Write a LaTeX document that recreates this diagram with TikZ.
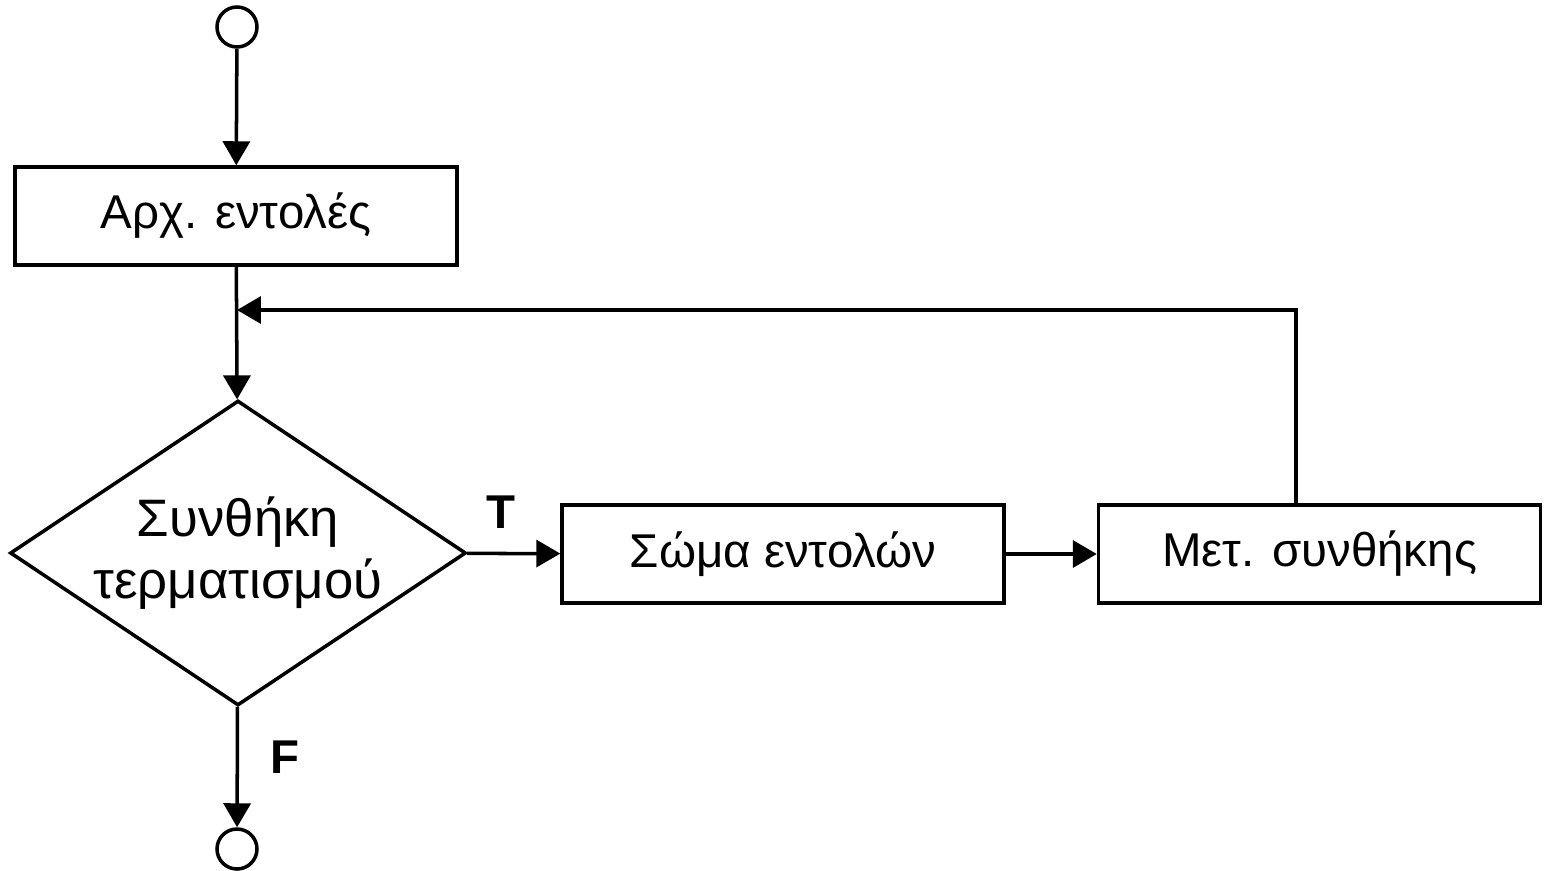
\documentclass[tikz,border=0pt]{standalone}
\usepackage{fontspec}
\setmainfont{Liberation Sans}
\usetikzlibrary{positioning}
\usetikzlibrary{shapes.geometric}
\usetikzlibrary{arrows.meta}

\tikzset{
  flow/.style={line width=2pt,-{Triangle[length=0.48cm,width=0.54cm]}},
  stepbox/.style={draw,line width=2pt,minimum width=8.84cm,minimum height=1.96cm,
    font=\fontsize{27}{32}\selectfont},
  term/.style={draw,circle,line width=2pt,minimum size=0.8cm,inner sep=0pt},
  branch/.style={font=\fontsize{27}{30}\selectfont\bfseries}
}

\begin{document}
\begin{tikzpicture}[x=0.02cm,y=-0.02cm]
       \useasboundingbox (0,0) rectangle (1544,870);
       \node[term] (start) at (237,27) {};
       \node[stepbox] (init) at (236,216) {Αρχ. εντολές};
       \node[draw,diamond,line width=2pt,minimum width=9.12cm,minimum height=6.1cm,
         inner sep=0pt] (cond) at (238,553) {};
       \node[align=center,font=\fontsize{30}{35}\selectfont] (condtext) at (cond)
         {Συνθήκη\\τερματισμού};
       \node[stepbox] (body) at (783,554) {Σώμα εντολών};
       \node[stepbox] (upd) at (1319.5,554) {Μετ. συνθήκης};
       \node[term] (stop) at (237,849) {};
       \coordinate (back) at (1296,310);
       \coordinate (join) at (237,310);
       \draw[flow] (start) -- (init);
       \draw[flow] (init) -- (cond);
       \draw[flow] (back |- upd.north) -- (back) -- (join);
       \draw[flow] (cond) -- (body);
       \draw[flow] (body) -- (upd);
       \draw[flow] (cond) -- (stop);
       \node[branch] (t) at (501,512) {T};
       \node[branch] (f) at (285,757) {F};
\end{tikzpicture}
\end{document}
